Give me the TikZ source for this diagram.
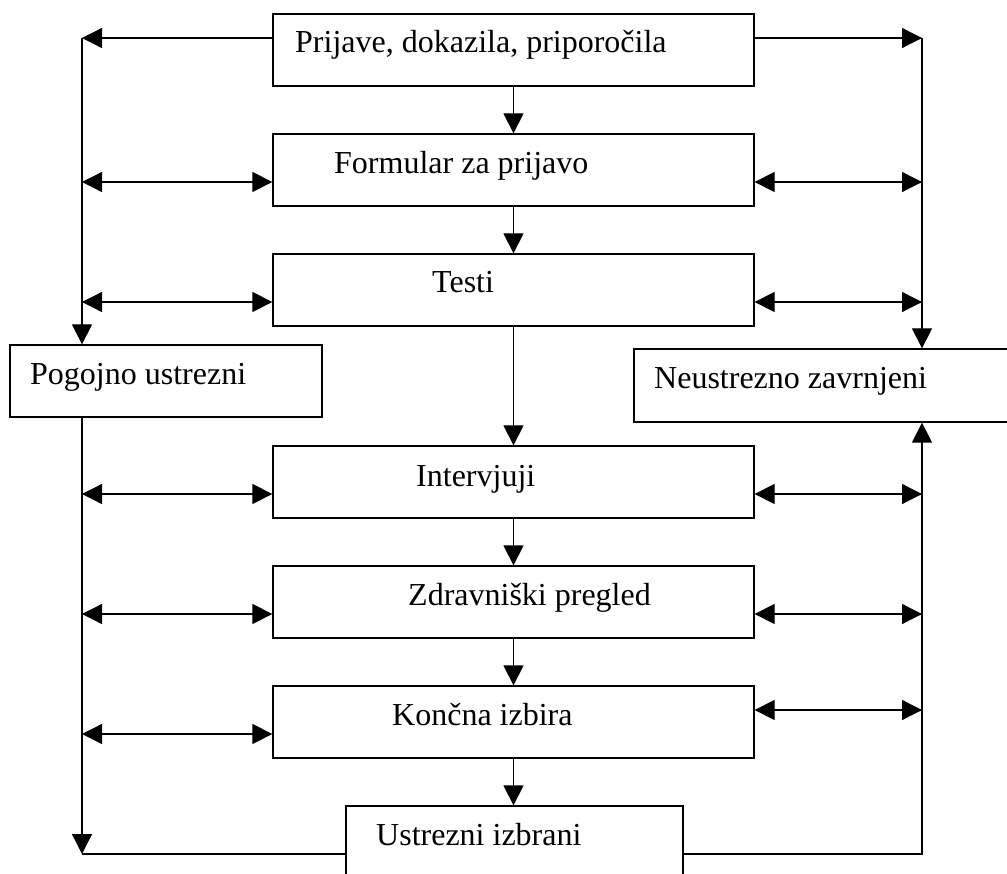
\documentclass[tikz,border=0pt]{standalone}
\usepackage{fontspec}
\setmainfont{Liberation Serif}
\usepackage{tikz}
\usetikzlibrary{calc,arrows.meta}

\tikzset{
  box/.style={draw, line width=1.3pt, rectangle, inner sep=0pt},
  txt/.style={anchor=base west, inner sep=0pt, font=\fontsize{32}{38}\selectfont},
  arr/.style={line width=1.3pt, -{Triangle[length=20pt,width=20pt]}},
  arrs/.style={line width=1.3pt, {Triangle[length=20pt,width=20pt]}-{Triangle[length=20pt,width=20pt]}},
}

\begin{document}
\begin{tikzpicture}[x=1pt,y=-1pt]
\useasboundingbox (0,0) rectangle (1007,874);
\clip (0,0) rectangle (1007,874);

% boxes
\node[box, minimum width=481pt, minimum height=72pt] (prijave) at (513.5,50) {};
\node[box, minimum width=481pt, minimum height=72pt] (formular) at (513.5,170) {};
\node[box, minimum width=481pt, minimum height=72pt] (testi) at (513.5,290) {};
\node[box, minimum width=312pt, minimum height=72pt] (pogojno) at (166,381) {};
\node[box, minimum width=406pt, minimum height=73pt] (neustrezno) at (837,385.5) {};
\node[box, minimum width=481pt, minimum height=72pt] (intervjuji) at (513.5,482) {};
\node[box, minimum width=481pt, minimum height=72pt] (zdravniski) at (513.5,602) {};
\node[box, minimum width=481pt, minimum height=72pt] (koncna) at (513.5,722) {};
\node[box, minimum width=337pt, minimum height=94pt] (ustrezni) at (514.5,853) {};

% texts
\node[txt] (t-prijave) at (295,53) {Prijave, dokazila, priporočila};
\node[txt] (t-formular) at (334,174) {Formular za prijavo};
\node[txt] (t-testi) at (432,293) {Testi};
\node[txt] (t-pogojno) at (30,385) {Pogojno ustrezni};
\node[txt] (t-neustrezno) at (654,389) {Neustrezno zavrnjeni};
\node[txt] (t-intervjuji) at (416,486) {Intervjuji};
\node[txt] (t-zdravniski) at (408,605) {Zdravniški pregled};
\node[txt] (t-koncna) at (392,725) {Končna izbira};
\node[txt] (t-ustrezni) at (376,845) {Ustrezni izbrani};

% rails
\coordinate (lt) at (82,38);
\coordinate (lb) at (82,854);
\coordinate (rt) at (922,38);
\coordinate (rb) at (922,854);

% main flow
\draw[arr] (prijave.south) -- (formular.north);
\draw[arr] (formular.south) -- (testi.north);
\draw[arr] (testi.south) -- (intervjuji.north);
\draw[arr] (intervjuji.south) -- (zdravniski.north);
\draw[arr] (zdravniski.south) -- (koncna.north);
\draw[arr] (koncna.south) -- (koncna.south |- ustrezni.north);

% left side
\draw[arr] (prijave.west |- lt) -- (lt);
\draw[arr] (lt) -- (lt |- pogojno.north);
\draw[arr] (lt |- pogojno.south) -- (lb);
\draw[line width=1.3pt] (lb) -- (ustrezni.west |- lb);
\coordinate (fl) at ($(formular.west)+(0,12)$);
\coordinate (tl) at ($(testi.west)+(0,12)$);
\coordinate (il) at ($(intervjuji.west)+(0,12)$);
\coordinate (zl) at ($(zdravniski.west)+(0,12)$);
\coordinate (kl) at ($(koncna.west)+(0,12)$);
\draw[arrs] (lt |- fl) -- (fl);
\draw[arrs] (lt |- tl) -- (tl);
\draw[arrs] (lt |- il) -- (il);
\draw[arrs] (lt |- zl) -- (zl);
\draw[arrs] (lt |- kl) -- (kl);

% right side
\draw[arr] (prijave.east |- rt) -- (rt);
\draw[arr] (rt) -- (rt |- neustrezno.north);
\draw[arr] (ustrezni.east |- rb) -- (rb) -- (rb |- neustrezno.south);
\coordinate (fr) at ($(formular.east)+(0,12)$);
\coordinate (tr) at ($(testi.east)+(0,12)$);
\coordinate (ir) at ($(intervjuji.east)+(0,12)$);
\coordinate (zr) at ($(zdravniski.east)+(0,12)$);
\coordinate (kr) at ($(koncna.east)+(0,-12)$);
\draw[arrs] (fr) -- (rt |- fr);
\draw[arrs] (tr) -- (rt |- tr);
\draw[arrs] (ir) -- (rt |- ir);
\draw[arrs] (zr) -- (rt |- zr);
\draw[arrs] (kr) -- (rt |- kr);
\end{tikzpicture}
\end{document}
